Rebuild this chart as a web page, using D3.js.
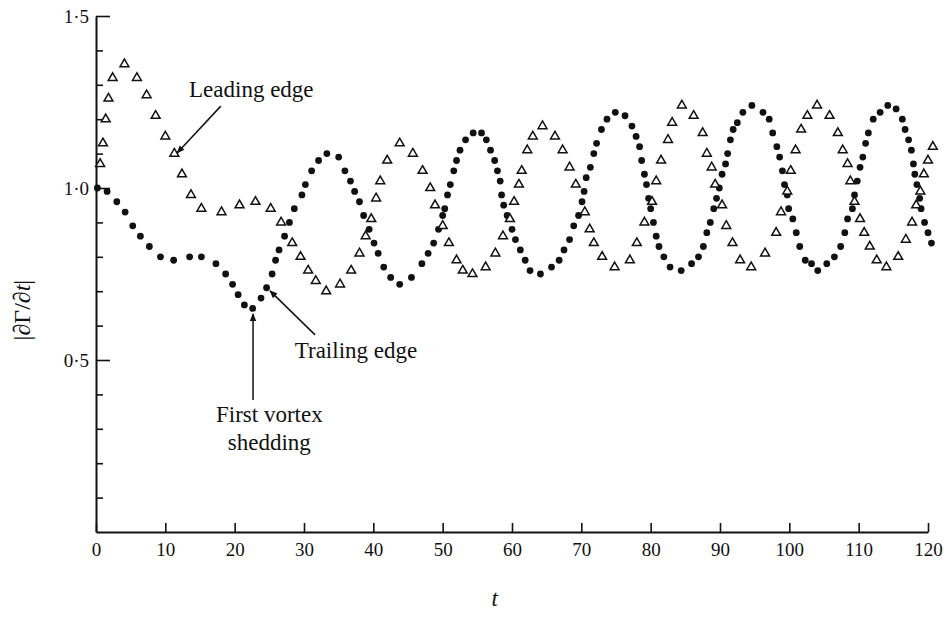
<!DOCTYPE html>
<html>
<head>
<meta charset="utf-8">
<script src="https://cdn.jsdelivr.net/npm/d3@7"></script>
<style>
	body { margin: 0; background: #fff; }
	svg { display: block; }
	text { font-family: "Liberation Serif", "DejaVu Serif", serif; fill: #111; }
</style>
</head>
<body>
<div id="chart"></div>
<script>
// Trailing edge |dΓ/dt| (filled dots), [t, value]
const trailingEdge = [
	[0.2,1.00],[1.6,0.99],[3.0,0.96],[4.2,0.93],[5.3,0.89],[6.4,0.86],[7.7,0.83],[9.3,0.80],
	[11.2,0.79],[13.5,0.80],[15.2,0.80],[17.3,0.78],[18.7,0.75],[19.7,0.72],[20.5,0.69],[21.4,0.66],
	[22.6,0.65],[23.8,0.68],[24.6,0.71],[25.4,0.75],[25.9,0.79],[26.4,0.82],[27.2,0.86],[27.9,0.90],
	[28.6,0.94],[29.7,0.98],[30.2,1.01],[31.1,1.05],[32.1,1.08],[33.3,1.10],[35.0,1.09],[35.9,1.05],
	[36.7,1.02],[37.3,0.99],[38.0,0.96],[38.6,0.92],[39.4,0.88],[40.1,0.84],[40.7,0.81],[41.5,0.77],
	[42.5,0.74],[43.8,0.72],[45.5,0.74],[47.0,0.78],[47.9,0.81],[48.7,0.84],[49.4,0.88],[50.0,0.92],
	[50.3,0.94],[50.7,0.98],[51.1,1.01],[51.6,1.05],[52.0,1.08],[52.5,1.11],[53.3,1.14],[54.4,1.16],
	[55.6,1.16],[56.3,1.14],[56.9,1.11],[57.5,1.08],[57.9,1.05],[58.3,1.02],[58.5,0.98],[58.8,0.95],
	[59.3,0.92],[60.0,0.88],[60.5,0.85],[61.2,0.82],[61.9,0.79],[62.6,0.76],[64.1,0.75],[65.7,0.77],
	[66.8,0.79],[67.5,0.82],[68.3,0.85],[68.9,0.89],[69.6,0.92],[70.1,0.96],[70.4,0.99],[70.7,1.03],
	[71.3,1.06],[71.8,1.10],[72.2,1.13],[72.9,1.17],[73.7,1.20],[74.9,1.22],[76.3,1.21],[77.3,1.18],
	[77.9,1.15],[78.4,1.12],[78.7,1.08],[79.1,1.04],[79.4,1.01],[79.7,0.97],[80.0,0.94],[80.4,0.90],
	[80.8,0.86],[81.2,0.83],[81.9,0.80],[82.8,0.77],[84.4,0.76],[85.9,0.78],[86.9,0.80],[87.6,0.83],
	[88.1,0.87],[88.6,0.90],[89.1,0.94],[89.5,0.97],[89.9,1.00],[90.3,1.04],[90.8,1.07],[91.1,1.10],
	[91.5,1.14],[91.9,1.17],[92.5,1.19],[93.3,1.22],[94.6,1.24],[96.2,1.22],[97.1,1.20],[97.6,1.16],
	[98.2,1.12],[98.6,1.09],[99.0,1.05],[99.3,1.01],[99.7,0.98],[99.9,0.94],[100.5,0.91],[101.0,0.87],
	[101.5,0.83],[102.3,0.79],[103.2,0.78],[104.1,0.76],[105.4,0.78],[106.5,0.80],[107.4,0.83],[108.0,0.87],
	[108.4,0.91],[109.1,0.94],[109.4,0.98],[109.8,1.02],[110.2,1.06],[110.6,1.09],[111.0,1.13],[111.4,1.16],
	[112.1,1.20],[113.1,1.22],[114.2,1.24],[115.4,1.23],[116.3,1.20],[116.7,1.17],[117.2,1.14],[117.6,1.11],
	[117.9,1.07],[118.1,1.04],[118.4,1.01],[118.8,0.97],[119.0,0.94],[119.5,0.90],[120.0,0.87],[120.5,0.84]
]

// Leading edge |dΓ/dt| (open triangles), [t, value]
const leadingEdge = [
	[0.6,1.07],[1.0,1.13],[1.4,1.20],[1.8,1.26],[2.4,1.32],[4.1,1.36],[5.9,1.32],[7.3,1.27],
	[8.6,1.21],[10.0,1.15],[11.3,1.10],[12.4,1.04],[13.7,0.98],[15.2,0.94],[18.1,0.93],[20.7,0.95],
	[23.0,0.96],[25.2,0.94],[26.7,0.90],[28.3,0.84],[29.5,0.80],[30.6,0.76],[31.7,0.73],[33.2,0.70],
	[35.2,0.72],[36.8,0.76],[38.0,0.81],[38.9,0.86],[39.7,0.91],[40.4,0.97],[41.0,1.02],[42.0,1.08],
	[43.8,1.13],[45.7,1.10],[47.1,1.05],[48.2,1.00],[48.9,0.95],[50.0,0.89],[50.9,0.84],[52.0,0.79],
	[52.9,0.76],[54.3,0.75],[56.2,0.77],[57.6,0.81],[58.7,0.86],[59.7,0.91],[60.3,0.96],[61.0,1.01],
	[61.4,1.05],[62.2,1.11],[63.0,1.15],[64.4,1.18],[66.2,1.15],[67.3,1.11],[68.3,1.06],[69.2,1.01],
	[70.5,0.93],[71.2,0.88],[71.8,0.84],[73.0,0.80],[74.8,0.77],[77.0,0.79],[78.0,0.84],[79.1,0.90],
	[80.2,0.96],[80.8,1.02],[81.5,1.08],[82.5,1.14],[83.1,1.19],[84.5,1.24],[86.2,1.21],[87.5,1.16],
	[88.1,1.10],[88.8,1.06],[89.3,1.01],[90.3,0.95],[90.9,0.89],[91.8,0.84],[92.9,0.79],[94.5,0.77],
	[96.5,0.81],[98.1,0.87],[98.8,0.93],[99.7,0.99],[100.2,1.05],[100.9,1.11],[101.7,1.17],[102.6,1.21],
	[104.0,1.24],[105.8,1.21],[107.0,1.16],[107.7,1.11],[108.4,1.07],[108.8,1.02],[109.4,0.96],[110.2,0.91],
	[110.8,0.87],[111.6,0.83],[112.6,0.79],[114.0,0.77],[115.7,0.80],[116.8,0.85],[117.7,0.90],[118.3,0.95],
	[118.9,0.99],[119.4,1.04],[120.0,1.08],[120.7,1.12]
]

const xTicks = [0, 10, 20, 30, 40, 50, 60, 70, 80, 90, 100, 110, 120]
const yMajorTicks = [0.5, 1.0, 1.5]
const yMinorTicks = [0.1, 0.2, 0.3, 0.4, 0.6, 0.7, 0.8, 0.9, 1.1, 1.2, 1.3, 1.4]

// annotations in data units: label lines, arrow from -> to
const annotations = [
	{ lines: ["Leading edge"], at: [22.4, 1.265], from: [18.0, 1.238], to: [11.7, 1.102] },
	{ lines: ["Trailing edge"], at: [37.5, 0.506], from: [31.6, 0.573], to: [25.1, 0.701] },
	{ lines: ["First vortex", "shedding"], at: [25.0, 0.32], from: [22.65, 0.384], to: [22.65, 0.634] },
]

const width = 952
const height = 618

const svg = d3
	.select("#chart")
	.append("svg")
	.attr("width", width)
	.attr("height", height)

svg.append("rect").attr("width", width).attr("height", height).attr("fill", "#fff")

// scales
const xScale = d3.scaleLinear().domain([0, 120]).range([96, 928])
const yScale = d3.scaleLinear().domain([0, 1.5]).range([532, 16])

const fmt = (d) => d3.format(".1f")(d).replace(".", "·")

// y axis: minor ticks then major ticks, all pointing inward
svg.append("g")
	.attr("transform", `translate(${xScale(0)},0)`)
	.call(d3.axisLeft(yScale).tickValues(yMinorTicks).tickSize(-7).tickSizeOuter(0).tickFormat(""))
	.call((g) => g.select(".domain").remove())

const yAxis = svg.append("g")
	.attr("transform", `translate(${xScale(0)},0)`)
	.call(d3.axisLeft(yScale).tickValues(yMajorTicks).tickSize(-14).tickSizeOuter(0).tickPadding(7).tickFormat(fmt))

// x axis
const xAxis = svg.append("g")
	.attr("transform", `translate(0,${yScale(0)})`)
	.call(d3.axisBottom(xScale).tickValues(xTicks).tickSize(-9).tickSizeOuter(0).tickPadding(11))

svg.selectAll(".domain").attr("stroke", "#111").attr("stroke-width", 2)
svg.selectAll(".tick line").attr("stroke", "#111").attr("stroke-width", 1.6)
svg.selectAll(".tick text")
	.style("font-family", '"Liberation Serif", serif')
	.style("font-size", "19px")
	.attr("fill", "#111")

// axis titles
svg.append("text")
	.attr("transform", `translate(22, ${yScale(0.645)}) rotate(-90)`)
	.attr("text-anchor", "middle")
	.attr("dy", "0.35em")
	.style("font-size", "24px")
	.html('|∂Γ/∂<tspan font-style="italic">t</tspan>|')

svg.append("text")
	.attr("x", xScale(57.5))
	.attr("y", 606)
	.attr("text-anchor", "middle")
	.style("font-size", "23px")
	.style("font-style", "italic")
	.text("t")

// trailing edge dots
svg.selectAll(".dot")
	.data(trailingEdge)
	.enter()
	.append("circle")
	.attr("class", "dot")
	.attr("cx", (d) => xScale(d[0]))
	.attr("cy", (d) => yScale(d[1]))
	.attr("r", 3.4)
	.attr("fill", "#111")

// leading edge triangles
const tri = d3.symbol().type(d3.symbolTriangle).size(34)
svg.selectAll(".tri")
	.data(leadingEdge)
	.enter()
	.append("path")
	.attr("class", "tri")
	.attr("transform", (d) => `translate(${xScale(d[0])},${yScale(d[1])})`)
	.attr("d", tri)
	.attr("fill", "#fff")
	.attr("stroke", "#111")
	.attr("stroke-width", 1.5)

// arrow head marker
svg.append("defs")
	.append("marker")
	.attr("id", "head")
	.attr("viewBox", "0 0 10 10")
	.attr("refX", 9)
	.attr("refY", 5)
	.attr("markerWidth", 10)
	.attr("markerHeight", 8)
	.attr("markerUnits", "userSpaceOnUse")
	.attr("orient", "auto")
	.append("path")
	.attr("d", "M0,1 L10,5 L0,9 Z")
	.attr("fill", "#111")

annotations.forEach((a) => {
	svg.append("line")
		.attr("x1", xScale(a.from[0]))
		.attr("y1", yScale(a.from[1]))
		.attr("x2", xScale(a.to[0]))
		.attr("y2", yScale(a.to[1]))
		.attr("stroke", "#111")
		.attr("stroke-width", 1.5)
		.attr("marker-end", "url(#head)")

	a.lines.forEach((line, i) => {
		svg.append("text")
			.attr("x", xScale(a.at[0]))
			.attr("y", yScale(a.at[1]) + i * 28)
			.attr("text-anchor", "middle")
			.style("font-size", "23px")
			.text(line)
	})
})
</script>
</body>
</html>
